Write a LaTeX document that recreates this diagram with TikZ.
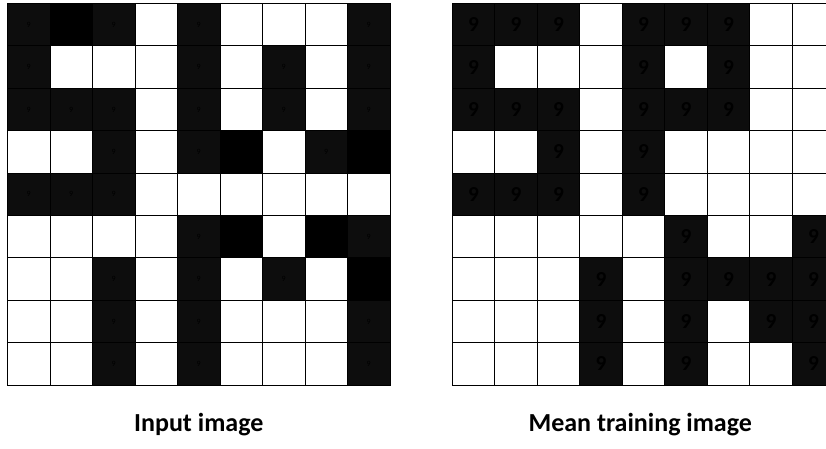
\documentclass[tikz,border=0pt]{standalone}
\usepackage{fontspec}
\setmainfont{Carlito}
\usepackage{tikz}
\usetikzlibrary{positioning}

\definecolor{cellgray}{HTML}{0D0D0D}

\begin{document}
\begin{tikzpicture}[
			x=0.75pt, y=-0.75pt,
			cell/.style={
				draw=black,
				line width=0.75pt,
				fill=white,
				minimum width=31.875pt,
				minimum height=31.8pt,
				inner sep=0pt,
				outer sep=0pt
			},
			darkcell/.style={cell, fill=cellgray, text=black},
			blackcell/.style={cell, fill=black},
			small9/.style={font=\fontsize{6}{6}\selectfont},
			big9/.style={font=\fontsize{16}{16}\selectfont\bfseries},
			caption/.style={font=\fontsize{19.5}{23}\selectfont\bfseries, inner sep=0pt}
			]
			
			\clip (0,0) rectangle (826,449);
			
			% input image
			\foreach \c in {0,...,8}
				\foreach \r in {0,...,8}
					\node[cell] (in-\c-\r) at ({28.75+42.5*\c},{24.7+42.4*\r}) {};
			\foreach \c/\r in {0/0,2/0,4/0,8/0, 0/1,4/1,6/1,8/1, 0/2,1/2,2/2,4/2,6/2,8/2,
					2/3,4/3,7/3, 0/4,1/4,2/4, 4/5,8/5, 2/6,4/6,6/6, 2/7,4/7,8/7, 2/8,4/8,8/8}
				\node[darkcell, small9] (in9-\c-\r) at (in-\c-\r) {9};
			\foreach \c/\r in {1/0, 5/3, 8/3, 5/5, 7/5, 8/6}
				\node[blackcell] (inb-\c-\r) at (in-\c-\r) {};
			
			% mean training image
			\foreach \c in {0,...,8}
				\foreach \r in {0,...,8}
					\node[cell] (tr-\c-\r) at ({473.55+42.5*\c},{24.7+42.4*\r}) {};
			\foreach \c/\r in {0/0,1/0,2/0,4/0,5/0,6/0, 0/1,4/1,6/1, 0/2,1/2,2/2,4/2,5/2,6/2,
					2/3,4/3, 0/4,1/4,2/4,4/4, 5/5,8/5, 3/6,5/6,6/6,7/6,8/6, 3/7,5/7,7/7,8/7, 3/8,5/8,8/8}
				\node[darkcell, big9] (tr9-\c-\r) at (tr-\c-\r) {9};
			
			\node[caption, below=21pt of in-4-8] (incap) {Input image};
			\node[caption, below=21pt of tr-4-8, xshift=-2.5pt] (trcap) {Mean training image};
			
		\end{tikzpicture}
\end{document}
